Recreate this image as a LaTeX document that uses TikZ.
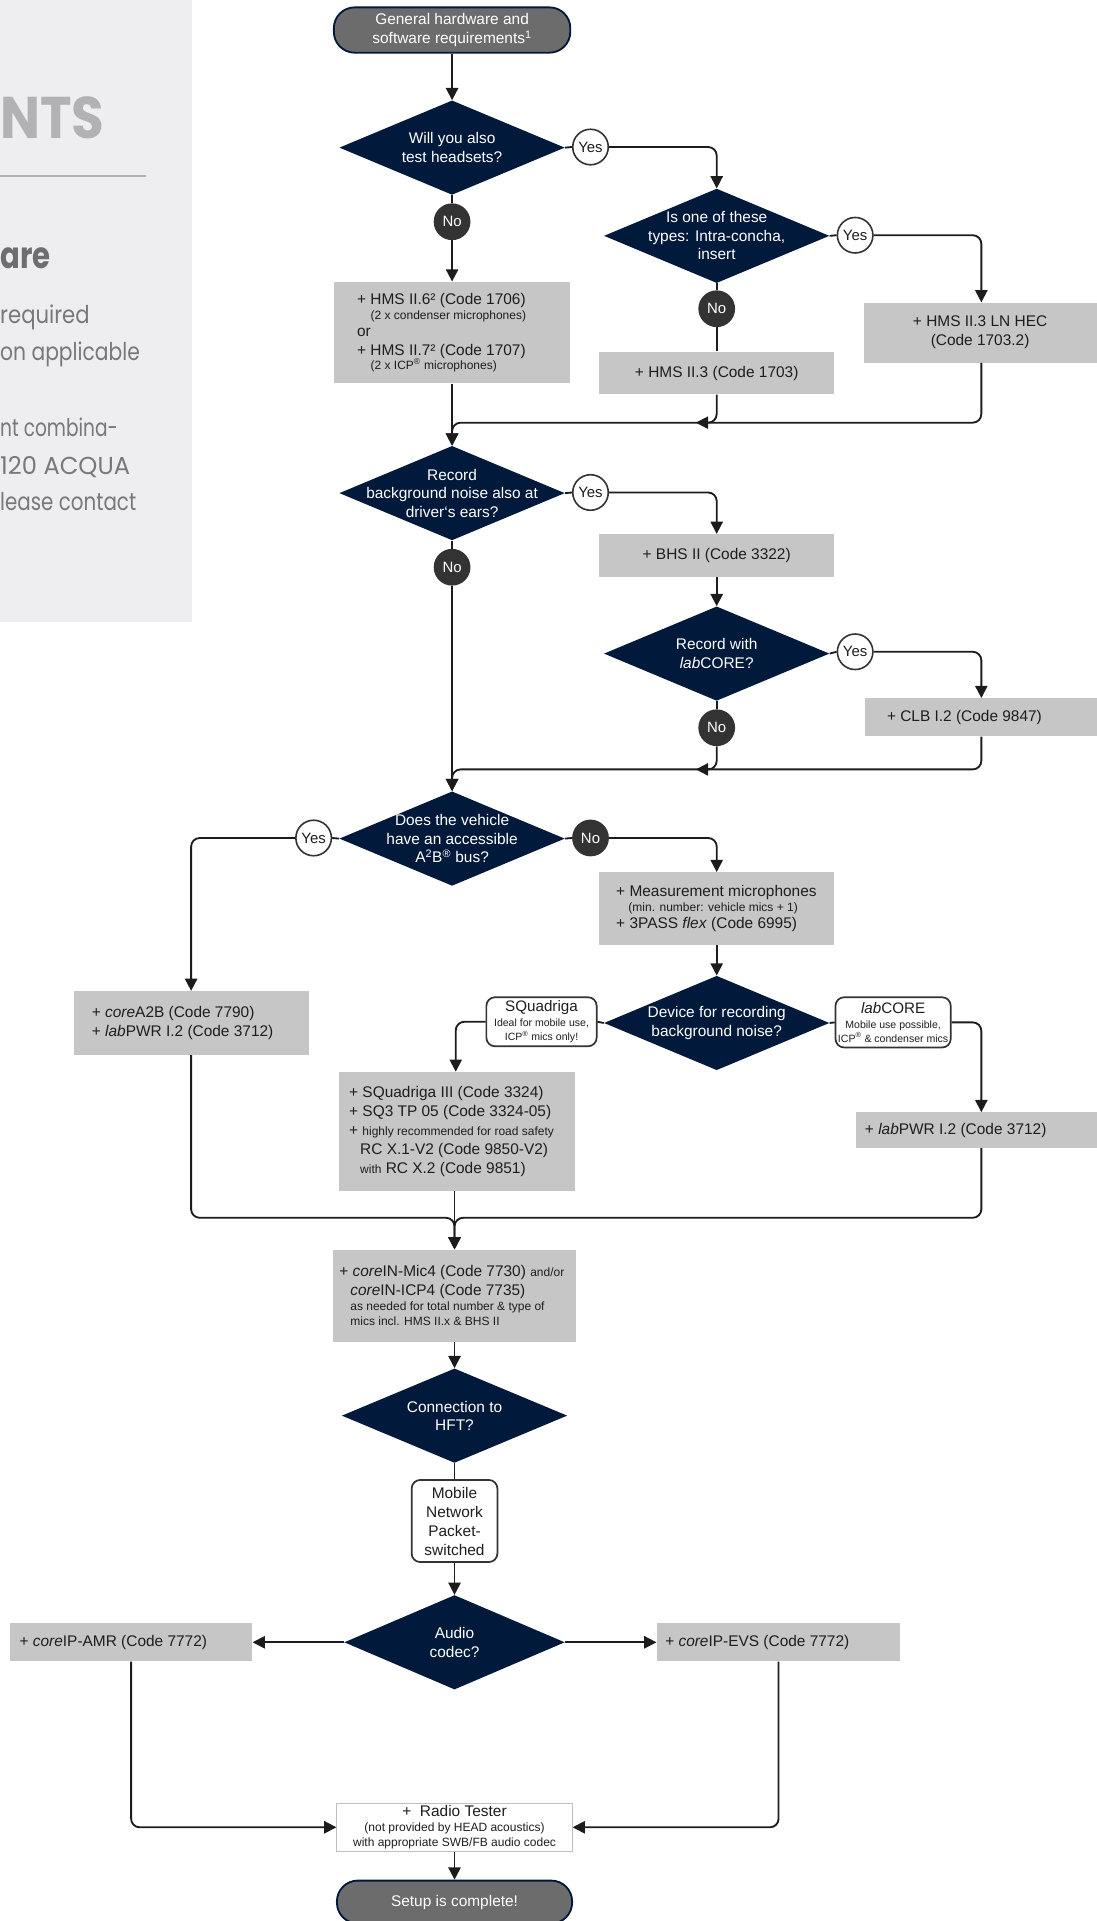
\documentclass[tikz,border=0pt]{standalone}
\usepackage{fontspec}
\usepackage{graphicx}
\setmainfont{Liberation Sans}
\newfontfamily\panelfont{Poppins}
\usetikzlibrary{shapes.geometric,arrows.meta}
\definecolor{navy}{RGB}{1,25,58}
\definecolor{boxgray}{RGB}{198,198,198}
\definecolor{termgray}{RGB}{108,108,108}
\definecolor{nogray}{RGB}{51,51,51}
\definecolor{linecol}{RGB}{28,28,28}
\definecolor{panelbg}{RGB}{238,238,240}
\definecolor{ntsgray}{RGB}{178,178,180}
\definecolor{headgray}{RGB}{110,110,112}
\definecolor{bodygray}{RGB}{120,120,122}
\definecolor{txt}{RGB}{30,30,30}
\newcommand\smtxt{\fontsize{9.8}{11}\selectfont}
\newcommand\tinytxt{\fontsize{8.6}{10}\selectfont}
\newcommand\dnode[4]{\node[dia,minimum width=#3pt] (#1) at (#2) {};\node[diatext] (#1t) at (#1) {#4};}
\newcommand\lbox[6]{\node[gbox,minimum width=#3pt,minimum height=#4pt] (#1) at (#2) {};\node[btxt] (#1t) at ([xshift=#5pt]#1.west) {#6};}
\newcommand\fitw[2]{\resizebox{#1pt}{\height}{#2}}
\tikzset{
 conn/.style={draw=linecol,line width=1.5pt,rounded corners=7pt},
 arr/.style={conn,-{Triangle[length=10pt,width=10pt]}},
 dia/.style={diamond,fill=navy,minimum height=77pt,inner sep=0pt},
 diatext/.style={text=white,align=center,inner sep=0pt,font=\fontsize{12.6}{15}\selectfont},
 yesc/.style={circle,draw=nogray,fill=white,line width=1.3pt,minimum size=29pt,inner sep=0pt,text=txt,font=\fontsize{12.2}{14}\selectfont},
 noc/.style={circle,fill=nogray,minimum size=30pt,inner sep=0pt,text=white,font=\fontsize{12.2}{14}\selectfont},
 gbox/.style={rectangle,fill=boxgray,inner sep=0pt,text=txt,align=center},
 btxt/.style={anchor=west,align=left,inner sep=0pt,text=txt},
 term/.style={rectangle,rounded corners=17pt,fill=termgray,draw=navy,line width=1.5pt,text=white,minimum width=193pt,minimum height=37pt,align=center,inner sep=0pt},
 lab/.style={rectangle,rounded corners=7pt,draw=nogray,line width=1.4pt,fill=white,align=center,inner sep=0pt,text=txt},
 ptxt/.style={anchor=base west,inner sep=0pt,text=bodygray,font=\panelfont\fontsize{20}{24}\selectfont},
}
\begin{document}
\begin{tikzpicture}[x=1pt,y=-1pt,font=\fontsize{12.6}{15.5}\selectfont]
\useasboundingbox (0,0) rectangle (895,1568);
% left panel
\fill[panelbg] (0,0) rectangle (157,508);
\node[anchor=base west,inner sep=0pt,text=ntsgray,font=\panelfont\bfseries\fontsize{48}{50}\selectfont] (pnts) at (0,113) {\fitw{85}{NTS}};
\draw[ntsgray,line width=1.6pt] (0,144) -- (119,144);
\node[anchor=base west,inner sep=0pt,text=headgray,font=\panelfont\bfseries\fontsize{30}{34}\selectfont] (pare) at (0,219) {\fitw{41}{are}};
\node[ptxt] (p1) at (0,264) {\fitw{73}{required}};
\node[ptxt] (p2) at (0,294) {\fitw{114}{on applicable}};
\node[ptxt] (p3) at (0,356) {\fitw{96}{nt combina-}};
\node[ptxt] (p4) at (0,387) {\fitw{106}{120 ACQUA}};
\node[ptxt] (p5) at (0,417) {\fitw{111}{lease contact}};
% nodes
\node[term] (start) at (369,24.5) {General hardware and\\software requirements\textsuperscript{1}};
\dnode{d1}{369,120.5}{184}{Will you also\\test headsets?}
\node[yesc] (y1) at (482,120) {Yes};
\node[noc] (n1) at (369,181) {No};
\lbox{hms}{369,271.5}{193}{83}{19}{+ HMS II.6² (Code 1706)\\[-3.5pt]\hspace*{11pt}{\smtxt (2 x condenser microphones)}\\[-1.5pt]or\\[0.5pt]+ HMS II.7² (Code 1707)\\[-4.5pt]\hspace*{11pt}{\smtxt (2 x ICP\textsuperscript{®} microphones)}}
\dnode{d2}{585,192.5}{184}{Is one of these\\types: Intra-concha,\\insert}
\node[yesc] (y2) at (698,192) {Yes};
\node[noc] (n2) at (585,252) {No};
\node[gbox,minimum width=192pt,minimum height=35pt] (hms3) at (585,304.5) {+ HMS II.3 (Code 1703)};
\node[gbox,minimum width=190pt,minimum height=49pt] (lnhec) at (800,271.5) {+ HMS II.3 LN HEC\\(Code 1703.2)};
\dnode{d3}{369,402.5}{184}{Record\\background noise also at\\driver‘s ears?}
\node[yesc] (y3) at (482,402) {Yes};
\node[noc] (n3) at (369,463) {No};
\node[gbox,minimum width=192pt,minimum height=35pt] (bhs) at (585,453.5) {+ BHS II (Code 3322)};
\dnode{d4}{585,533.5}{184}{Record with\\\textit{lab}CORE?}
\node[yesc] (y4) at (698,532) {Yes};
\node[noc] (n4) at (585,594) {No};
\lbox{clb}{800.5,585.5}{189}{31}{18}{+ CLB I.2 (Code 9847)}
\dnode{d5}{369,684.5}{184}{Does the vehicle\\have an accessible\\A\textsuperscript{2}B\textsuperscript{®} bus?}
\node[yesc] (y5) at (256,684) {Yes};
\node[noc] (n5) at (482,684) {No};
\lbox{meas}{585,741.5}{192}{59}{14}{+ Measurement microphones\\[-3.5pt]\hspace*{10pt}{\smtxt (min. number: vehicle mics + 1)}\\[-1.5pt]+ 3PASS \textit{flex} (Code 6995)}
\dnode{d6}{585,835}{184}{Device for recording\\background noise?}
\node[lab,minimum width=90pt,minimum height=40pt] (sqlab) at (442,834) {{\fontsize{12.4}{13}\selectfont SQuadriga}\\[-3pt]{\tinytxt Ideal for mobile use,}\\[-4pt]{\tinytxt ICP\textsuperscript{®} mics only!}};
\node[lab,minimum width=94pt,minimum height=41pt] (lclab) at (729,834.5) {{\fontsize{12.4}{13}\selectfont\textit{lab}CORE}\\[-3pt]{\tinytxt Mobile use possible,}\\[-4pt]{\tinytxt ICP\textsuperscript{®} \& condenser mics}};
\lbox{a2b}{156,835}{192}{52}{15}{+ \textit{core}A2B (Code 7790)\\+ \textit{lab}PWR I.2 (Code 3712)}
\lbox{sq}{373,923.5}{192}{97}{8}{+ SQuadriga III (Code 3324)\\+ SQ3 TP 05 (Code 3324-05)\\+ {\smtxt highly recommended for road safety}\\\hspace*{9pt}RC X.1-V2 (Code 9850-V2)\\\hspace*{9pt}{\smtxt with} RC X.2 (Code 9851)}
\lbox{lpwr}{797,922.5}{196}{29}{7}{+ \textit{lab}PWR I.2 (Code 3712)}
\lbox{corein}{371,1057.5}{198}{75}{5}{+ \textit{core}IN-Mic4 (Code 7730) {\smtxt and/or}\\\hspace*{9pt}\textit{core}IN-ICP4 (Code 7735)\\[-3.5pt]\hspace*{9pt}{\smtxt as needed for total number \& type of}\\[-2.5pt]\hspace*{9pt}{\smtxt mics incl. HMS II.x \& BHS II}}
\dnode{d7}{371,1155.5}{184}{Connection to\\HFT?}
\node[lab,minimum width=70pt,minimum height=67pt] (mob) at (371,1241.5) {Mobile\\Network\\Packet-\\switched};
\dnode{d8}{371,1340.5}{180}{Audio\\codec?}
\lbox{amr}{107,1340.5}{198}{31}{8}{+ \textit{core}IP-AMR (Code 7772)}
\lbox{evs}{635.5,1340.5}{199}{31}{7}{+ \textit{core}IP-EVS (Code 7772)}
\node[gbox,fill=white,draw=black!25,line width=0.8pt,minimum width=192pt,minimum height=39pt] (radio) at (371,1491.5) {+\ \ Radio Tester\\[-3pt]{\smtxt (not provided by HEAD acoustics)}\\[-3pt]{\smtxt with appropriate SWB/FB audio codec}};
\node[term,minimum width=192pt,minimum height=35pt] (end) at (371,1552.5) {Setup is complete!};
% connectors
\draw[arr] (start.south) -- (d1.north);
\draw[conn] (d1.east) -- (y1.west);
\draw[arr] (y1.east) -| (d2.north);
\draw[conn] (d1.south) -- (n1.north);
\draw[arr] (n1.south) -- (hms.north);
\draw[conn] (d2.east) -- (y2.west);
\draw[arr] (y2.east) -| ([xshift=1pt]lnhec.north);
\draw[conn] (d2.south) -- (n2.north);
\draw[conn] (n2.south) -- (hms3.north);
\coordinate (m1) at (568,345);
\draw[arr] (hms3.south) |- (m1);
\coordinate (j1) at (369,345);
\draw[arr] ([xshift=1pt]lnhec.south) |- (j1) -- (d3.north);
\draw[arr] (hms.south) -- (d3.north);
\draw[conn] (d3.east) -- (y3.west);
\draw[arr] (y3.east) -| (bhs.north);
\draw[conn] (d3.south) -- (n3.north);
\draw[arr] (n3.south) -- (d5.north);
\draw[arr] (bhs.south) -- (d4.north);
\draw[conn] (d4.east) -- (y4.west);
\draw[arr] (y4.east) -| ([xshift=0.5pt]clb.north);
\draw[conn] (d4.south) -- (n4.north);
\coordinate (m2) at (568,628);
\draw[arr] (n4.south) |- (m2);
\coordinate (j2) at (369,628);
\draw[arr] ([xshift=0.5pt]clb.south) |- (j2) -- (d5.north);
\draw[conn] (d5.west) -- (y5.east);
\draw[arr] (y5.west) -| (a2b.north);
\draw[conn] (d5.east) -- (n5.west);
\draw[arr] (n5.east) -| (meas.north);
\draw[arr] (meas.south) -- (d6.north);
\draw[conn] (d6.west) -- (sqlab.east);
\draw[arr] (sqlab.west) -| ([xshift=-1pt]sq.north);
\draw[conn] (d6.east) -- (lclab.west);
\draw[arr] (lclab.east) -| ([xshift=4pt]lpwr.north);
\coordinate (j3) at (371,994);
\draw[arr] (a2b.south) |- (j3) -- (corein.north);
\draw[arr] ([xshift=4pt]lpwr.south) |- (j3) -- (corein.north);
\draw[arr] ([xshift=-2pt]sq.south) -- (corein.north);
\draw[arr] (corein.south) -- (d7.north);
\draw[conn] (d7.south) -- (mob.north);
\draw[arr] (mob.south) -- (d8.north);
\draw[arr] (d8.west) -- (amr.east);
\draw[arr] (d8.east) -- (evs.west);
\draw[arr] (amr.south) |- (radio.west);
\draw[arr] (evs.south) |- (radio.east);
\draw[arr] (radio.south) -- (end.north);
\end{tikzpicture}
\end{document}
